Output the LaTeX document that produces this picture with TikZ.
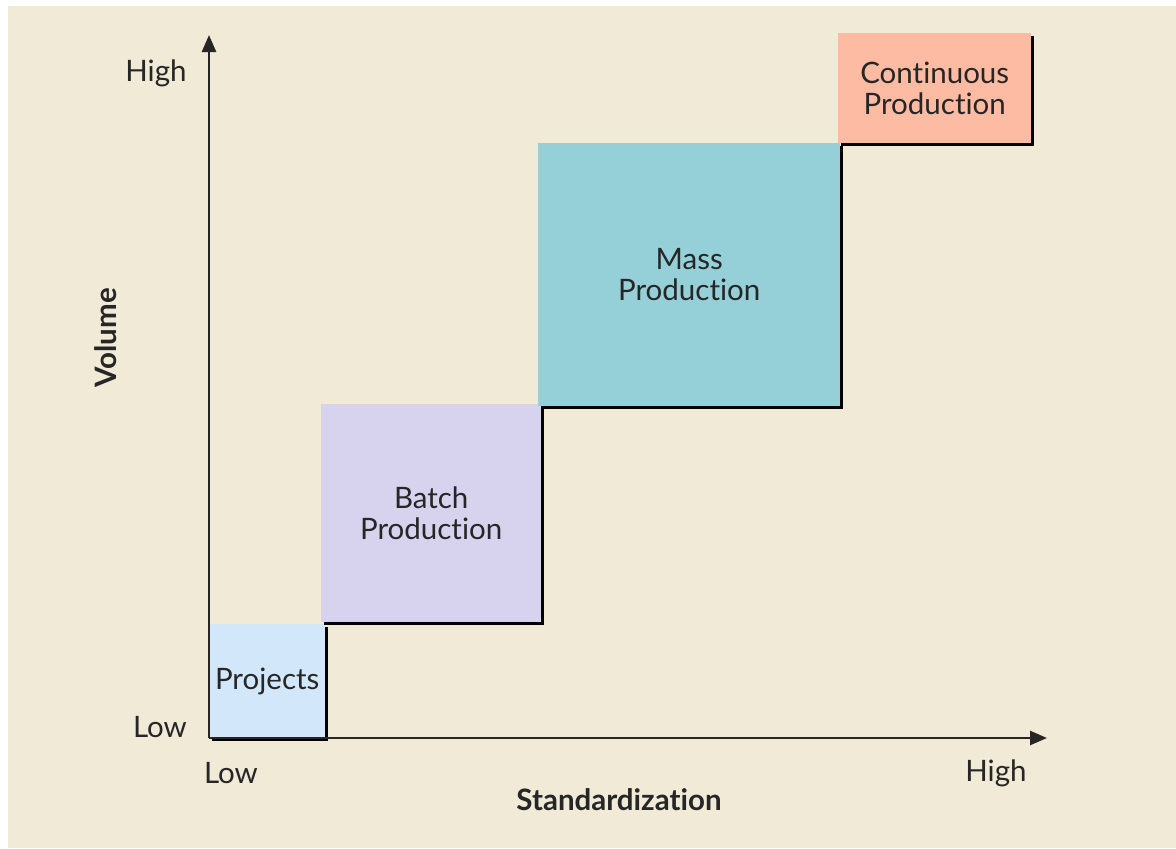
\documentclass[tikz,border=0pt]{standalone}
\usepackage{fontspec}
\setmainfont[Ligatures={NoCommon,NoRare}]{Lato}
\usetikzlibrary{arrows.meta,shadows}
\definecolor{bg}{HTML}{F0EAD6}
\definecolor{cproj}{HTML}{D3E7FB}
\definecolor{cbatch}{HTML}{D7D3EE}
\definecolor{cmass}{HTML}{95CFD8}
\definecolor{ccont}{HTML}{FDBBA3}
\definecolor{ink}{HTML}{262626}
\tikzset{
  lbl/.style={text=ink, font=\fontsize{29.5}{31}\selectfont, inner sep=0pt},
  ttl/.style={text=ink, font=\fontsize{29.5}{31}\selectfont\bfseries, inner sep=0pt},
  blk/.style={anchor=north west, inner sep=0pt, draw=none, align=center,
    text=ink, font=\fontsize{29.5}{31}\selectfont,
    drop shadow={shadow xshift=3pt, shadow yshift=-3pt, opacity=1, fill=black}},
  axis/.style={line width=2.6pt, draw=ink, -{Triangle[length=17pt,width=14pt]}}
}
\begin{document}
\begin{tikzpicture}[x=1pt,y=-1pt]
\useasboundingbox (0,0) rectangle (1176,849);
\fill[white] (0,0) rectangle (1176,849);
\fill[bg] (8,6) rectangle (1176,848);
% boxes
\node[blk, fill=cproj, minimum width=116pt, minimum height=114pt] (proj) at (209,624) {Projects};
\node[blk, fill=cbatch, minimum width=220pt, minimum height=218pt] (batch) at (321,404) {Batch\\Production};
\node[blk, fill=cmass, minimum width=302pt, minimum height=263pt] (mass) at (538,143) {Mass\\Production};
\node[blk, fill=ccont, minimum width=193pt, minimum height=110pt] (cont) at (838,33) {Continuous\\Production};
% axes
\coordinate (o) at (209,738);
\coordinate (ytop) at (209,35);
\coordinate (xend) at (1047,738);
\draw[axis] (o) -- (ytop);
\draw[axis] (o) -- (xend);
% axis labels
\node[lbl] (yhigh) at (156,73) {High};
\node[lbl] (ylow) at (160,727) {Low};
\node[lbl] (xlow) at (231,773) {Low};
\node[lbl] (xhigh) at (996,773) {High};
\node[ttl] (xt) at (619,800) {Standardization};
\node[ttl, rotate=90] (yt) at (106,338) {Volume};
\end{tikzpicture}
\end{document}
